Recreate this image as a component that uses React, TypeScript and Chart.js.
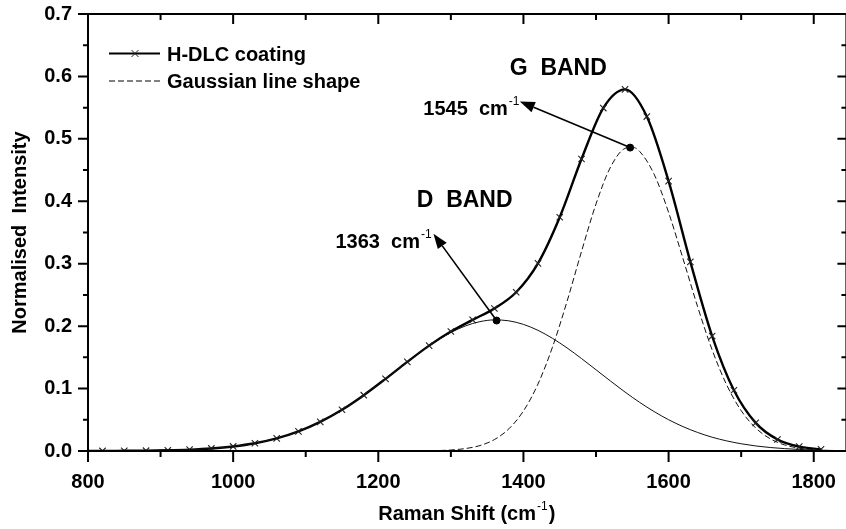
import React, { useEffect, useRef } from "react";
import { Chart, registerables } from "chart.js";

Chart.register(...registerables);

// H-DLC coating (measured spectrum, markers)
const mainX = [800, 820, 850, 880, 910, 940, 970, 1000, 1030, 1060, 1090, 1120, 1150, 1180, 1210, 1240, 1270, 1300, 1330, 1360, 1390, 1420, 1450, 1480, 1510, 1540, 1570, 1600, 1630, 1660, 1690, 1720, 1750, 1780, 1810];
const mainY = [0.0001, 0.0001, 0.0003, 0.0005, 0.0011, 0.0022, 0.0041, 0.0073, 0.0124, 0.0202, 0.0314, 0.0466, 0.066, 0.0894, 0.1156, 0.1428, 0.1688, 0.1914, 0.2101, 0.2283, 0.2543, 0.3005, 0.3745, 0.4677, 0.5493, 0.5792, 0.5357, 0.4323, 0.303, 0.1841, 0.0973, 0.045, 0.0185, 0.007, 0.0026];

// D band Gaussian (thin solid)
const dBandX = [800, 820, 840, 860, 880, 900, 920, 940, 960, 980, 1000, 1020, 1040, 1060, 1080, 1100, 1120, 1140, 1160, 1180, 1200, 1220, 1240, 1260, 1280, 1300, 1320, 1340, 1360, 1380, 1400, 1420, 1440, 1460, 1480, 1500, 1520, 1540, 1560, 1580, 1600, 1620, 1640, 1660, 1680, 1700, 1720, 1740, 1760, 1780, 1800, 1820, 1840];
const dBandY = [0.0001, 0.0001, 0.0002, 0.0003, 0.0005, 0.0009, 0.0014, 0.0022, 0.0033, 0.005, 0.0073, 0.0104, 0.0147, 0.0202, 0.0272, 0.036, 0.0466, 0.0591, 0.0734, 0.0894, 0.1066, 0.1246, 0.1428, 0.1602, 0.1761, 0.1898, 0.2003, 0.2072, 0.21, 0.2085, 0.2028, 0.1933, 0.1805, 0.1652, 0.1481, 0.1301, 0.112, 0.0944, 0.078, 0.0632, 0.0501, 0.039, 0.0297, 0.0221, 0.0162, 0.0116, 0.0081, 0.0056, 0.0038, 0.0025, 0.0016, 0.001, 0.0006];

// G band Gaussian (dashed)
const gBandX = [1260, 1280, 1300, 1320, 1340, 1360, 1380, 1400, 1420, 1440, 1460, 1480, 1500, 1520, 1540, 1550, 1560, 1580, 1600, 1620, 1640, 1660, 1680, 1700, 1720, 1740, 1760, 1780, 1800, 1820, 1840];
const gBandY = [0.0002, 0.0006, 0.0016, 0.0039, 0.0087, 0.0183, 0.0356, 0.0641, 0.1072, 0.1664, 0.2394, 0.3196, 0.3958, 0.4548, 0.4848, 0.4866, 0.48, 0.4434, 0.3822, 0.3076, 0.2311, 0.162, 0.106, 0.0647, 0.0369, 0.0196, 0.0097, 0.0045, 0.002, 0.0008, 0.0003];

// Peak positions (dots)
const peakX = [1363, 1547];
const peakY = [0.209, 0.486];

const xTickLabels = [800, 1000, 1200, 1400, 1600, 1800];
const yTickLabels = [0, 0.1, 0.2, 0.3, 0.4, 0.5, 0.6, 0.7];

const seriesNames = ["H-DLC coating", "Gaussian line shape"];
const xTitle = "Raman Shift (cm";
const yTitle = "Normalised  Intensity";
const bandLabels = ["G  BAND", "D  BAND"];
const peakLabels = ["1545  cm", "1363  cm"];

const FONT = "'Liberation Sans', Arial, sans-serif";

const toPts = (xs: number[], ys: number[]) => xs.map((x, i) => ({ x, y: ys[i] }));

function arrow(ctx: CanvasRenderingContext2D, x1: number, y1: number, x2: number, y2: number) {
  const ang = Math.atan2(y2 - y1, x2 - x1);
  const L = 15, W = 5.5;
  const bx = x2 - L * Math.cos(ang), by = y2 - L * Math.sin(ang);
  ctx.beginPath();
  ctx.moveTo(x1, y1);
  ctx.lineTo(bx, by);
  ctx.lineWidth = 1.6;
  ctx.stroke();
  ctx.beginPath();
  ctx.moveTo(x2, y2);
  ctx.lineTo(bx - W * Math.sin(ang), by + W * Math.cos(ang));
  ctx.lineTo(bx + W * Math.sin(ang), by - W * Math.cos(ang));
  ctx.closePath();
  ctx.fill();
}

function supText(ctx: CanvasRenderingContext2D, text: string, sup: string, x: number, y: number, size: number) {
  ctx.font = `bold ${size}px ${FONT}`;
  ctx.textAlign = "left";
  ctx.textBaseline = "alphabetic";
  ctx.fillText(text, x, y);
  const w = ctx.measureText(text).width;
  ctx.font = `${Math.round(size * 0.62)}px ${FONT}`;
  ctx.fillText(sup, x + w + 1, y - size * 0.5);
  return x + w + 1 + ctx.measureText(sup).width;
}

const decorPlugin = {
  id: "decor",
  afterDraw(chart: any) {
    const ctx: CanvasRenderingContext2D = chart.ctx;
    const { left, right, top, bottom } = chart.chartArea;
    const xs = chart.scales.x;
    const ys = chart.scales.y;
    ctx.save();
    ctx.strokeStyle = "#000";
    ctx.fillStyle = "#000";
    ctx.lineWidth = 2;
    ctx.setLineDash([]);
    // frame
    ctx.beginPath();
    ctx.moveTo(left, bottom);
    ctx.lineTo(left, top);
    ctx.lineTo(right, top);
    ctx.lineTo(right, bottom);
    ctx.closePath();
    ctx.stroke();
    // x ticks
    ctx.beginPath();
    for (let v = 800; v <= xs.max; v += 100) {
      const px = xs.getPixelForValue(v);
      const major = v % 200 === 0;
      ctx.moveTo(px, bottom);
      ctx.lineTo(px, bottom + (major ? 11 : 6));
      ctx.moveTo(px, top);
      ctx.lineTo(px, top + (major ? 10 : 6));
    }
    // y ticks
    for (let i = 0; i <= 14; i++) {
      const py = ys.getPixelForValue(i * 0.05);
      const major = i % 2 === 0;
      ctx.moveTo(left, py);
      ctx.lineTo(left - (major ? 10 : 5), py);
      ctx.moveTo(right, py);
      ctx.lineTo(right - (major ? 9 : 5), py);
    }
    ctx.stroke();

    // axis titles
    ctx.fillStyle = "#000";
    ctx.font = `bold 20px ${FONT}`;
    const w1 = ctx.measureText(xTitle).width;
    ctx.font = `13px ${FONT}`;
    const w2 = ctx.measureText("-1").width;
    ctx.font = `bold 20px ${FONT}`;
    const w3 = ctx.measureText(")").width;
    const total = w1 + w2 + w3 + 2;
    const cx = (left + right) / 2 - total / 2;
    const endX = supText(ctx, xTitle, "-1", cx, 520, 20);
    ctx.font = `bold 20px ${FONT}`;
    ctx.textAlign = "left";
    ctx.fillText(")", endX + 1, 520);

    ctx.save();
    ctx.translate(20, (top + bottom) / 2);
    ctx.rotate(-Math.PI / 2);
    ctx.font = `bold 20px ${FONT}`;
    ctx.textAlign = "center";
    ctx.textBaseline = "middle";
    ctx.fillText(yTitle, 0, 0);
    ctx.restore();

    // legend
    ctx.lineWidth = 2;
    ctx.beginPath();
    ctx.moveTo(109, 53.5);
    ctx.lineTo(160, 53.5);
    ctx.stroke();
    ctx.lineWidth = 1;
    ctx.strokeStyle = "#222";
    ctx.beginPath();
    ctx.moveTo(131.5, 50);
    ctx.lineTo(138.5, 57);
    ctx.moveTo(138.5, 50);
    ctx.lineTo(131.5, 57);
    ctx.stroke();
    ctx.strokeStyle = "#000";
    ctx.setLineDash([6, 3]);
    ctx.beginPath();
    ctx.moveTo(109, 81);
    ctx.lineTo(160, 81);
    ctx.stroke();
    ctx.setLineDash([]);
    ctx.font = `bold 20px ${FONT}`;
    ctx.textAlign = "left";
    ctx.textBaseline = "alphabetic";
    ctx.fillText(seriesNames[0], 167, 61);
    ctx.fillText(seriesNames[1], 167, 88);

    // annotations
    ctx.font = `bold 23px ${FONT}`;
    ctx.textAlign = "center";
    ctx.fillText(bandLabels[0], xs.getPixelForValue(1448), 75);
    ctx.fillText(bandLabels[1], xs.getPixelForValue(1319), 207);
    supText(ctx, peakLabels[0], "-1", xs.getPixelForValue(1262), 115, 20);
    supText(ctx, peakLabels[1], "-1", xs.getPixelForValue(1141), 248, 20);

    ctx.strokeStyle = "#000";
    ctx.fillStyle = "#000";
    arrow(ctx, xs.getPixelForValue(peakX[1]), ys.getPixelForValue(peakY[1]), xs.getPixelForValue(1395), ys.getPixelForValue(0.56));
    arrow(ctx, xs.getPixelForValue(peakX[0]), ys.getPixelForValue(peakY[0]), xs.getPixelForValue(1276), ys.getPixelForValue(0.348));
    ctx.restore();
  },
};

export default function App() {
  const ref = useRef<HTMLCanvasElement | null>(null);
  useEffect(() => {
    document.body.style.margin = "0";
    const canvas = ref.current!;
    const chart = new Chart(canvas, {
      type: "line",
      data: {
        datasets: [
          {
            label: "D band",
            data: toPts(dBandX, dBandY),
            borderColor: "#111",
            borderWidth: 1,
            pointRadius: 0,
            cubicInterpolationMode: "monotone",
            fill: false,
          },
          {
            label: seriesNames[1],
            data: toPts(gBandX, gBandY),
            borderColor: "#111",
            borderWidth: 1,
            borderDash: [6, 3],
            pointRadius: 0,
            cubicInterpolationMode: "monotone",
            fill: false,
          },
          {
            label: seriesNames[0],
            data: toPts(mainX, mainY),
            borderColor: "#000",
            borderWidth: 2.4,
            pointStyle: "crossRot",
            pointRadius: (c: any) => (c.dataIndex === 0 ? 0 : 4.5),
            pointBorderColor: "#222",
            pointBorderWidth: 1.1,
            cubicInterpolationMode: "monotone",
            fill: false,
          },
          {
            label: "peaks",
            data: toPts(peakX, peakY),
            showLine: false,
            pointStyle: "circle",
            pointRadius: 3.5,
            pointBackgroundColor: "#000",
            pointBorderColor: "#000",
          },
        ],
      },
      options: {
        responsive: false,
        animation: false,
        layout: { padding: { top: 14, right: 2, left: 0, bottom: 0 } },
        plugins: { legend: { display: false }, tooltip: { enabled: false } },
        scales: {
          x: {
            type: "linear",
            min: 800,
            max: 1845,
            grid: { display: false, drawTicks: false },
            border: { display: false },
            afterBuildTicks: (s: any) => {
              s.ticks = xTickLabels.map((v) => ({ value: v }));
            },
            afterFit: (s: any) => {
              s.height = 78;
              s.paddingLeft = 0;
              s.paddingRight = 0;
            },
            ticks: {
              padding: 19,
              color: "#000",
              font: { family: FONT, weight: "bold", size: 20 },
              callback: (v: any) => String(v),
            },
          },
          y: {
            min: 0,
            max: 0.7,
            grid: { display: false, drawTicks: false },
            border: { display: false },
            afterBuildTicks: (s: any) => {
              s.ticks = yTickLabels.map((v) => ({ value: v }));
            },
            afterFit: (s: any) => {
              s.width = 88;
              s.paddingTop = 0;
              s.paddingBottom = 0;
            },
            ticks: {
              padding: 16,
              color: "#000",
              font: { family: FONT, weight: "bold", size: 20 },
              callback: (v: any) => Number(v).toFixed(1),
            },
          },
        },
      },
      plugins: [decorPlugin],
    });
    return () => chart.destroy();
  }, []);
  return (
    <div style={{ width: 846, height: 529, overflow: "hidden", position: "relative", background: "#fff" }}>
      <canvas ref={ref} width={852} height={529} style={{ display: "block" }} />
    </div>
  );
}
